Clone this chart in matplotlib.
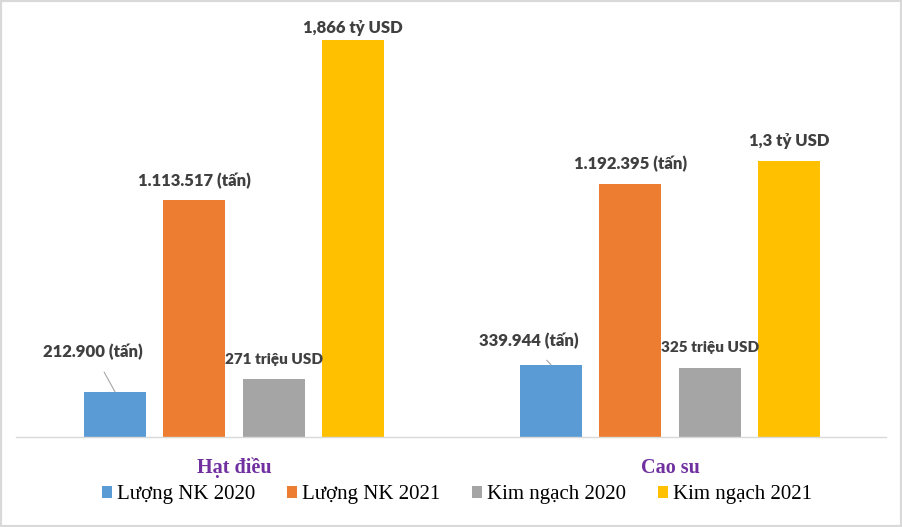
import matplotlib
matplotlib.use("Agg")
import matplotlib.pyplot as plt
import numpy as np

categories = ["Hạt điều", "Cao su"]
series_names = ["Lượng NK 2020", "Lượng NK 2021", "Kim ngạch 2020", "Kim ngạch 2021"]
luong_2020 = [212.9, 339.944]
luong_2021 = [1113.517, 1192.395]
kimngach_2020 = [271, 325]
kimngach_2021 = [1866, 1300]
labels_luong_2020 = ["212.900 (tấn)", "339.944 (tấn)"]
labels_luong_2021 = ["1.113.517 (tấn)", "1.192.395 (tấn)"]
labels_kn_2020 = ["271 triệu USD", "325 triệu USD"]
labels_kn_2021 = ["1,866 tỷ USD", "1,3 tỷ USD"]

colors = ["#5B9BD5", "#ED7D31", "#A5A5A5", "#FFC000"]
series = [luong_2020, luong_2021, kimngach_2020, kimngach_2021]
labels = [labels_luong_2020, labels_luong_2021, labels_kn_2020, labels_kn_2021]

W, H = 902, 527
fig = plt.figure(figsize=(W / 100, H / 100), dpi=100)
ax_l, ax_r = 16 / W, 888 / W
ax_top, ax_bot = 20, 437
ax = fig.add_axes([ax_l, (H - ax_bot) / H, ax_r - ax_l, (ax_bot - ax_top) / H])

x = np.arange(len(categories))
step = 0.182
width = 0.142
offsets = (np.arange(4) - 1.5) * step

bars = []
for i, (vals, c, name) in enumerate(zip(series, colors, series_names)):
    b = ax.bar(x + offsets[i], vals, width=width, color=c, label=name, zorder=2)
    bars.append(b)

ax.set_xlim(-0.5, 1.5)
ax.set_ylim(0, 1962)
for s in ["left", "right", "top"]:
    ax.spines[s].set_visible(False)
ax.spines["bottom"].set_color("#D9D9D9")
ax.spines["bottom"].set_linewidth(1.0)
ax.spines["bottom"].set_bounds(-0.5, 1.496)
ax.set_yticks([])
ax.set_xticks(x)
ax.set_xticklabels(categories, fontfamily="Liberation Serif", fontweight="bold",
                   fontsize=14.5, color="#7030A0")
ax.tick_params(axis="x", length=0, pad=15)

lab_font = dict(fontfamily="Lato", fontweight="heavy", fontsize=12, color="#404040",
                ha="center", va="center")

dy = {1: 14, 2: 14, 3: 14}
for i in range(4):
    for j in range(len(categories)):
        xv = x[j] + offsets[i]
        yv = series[i][j]
        if i == 0:
            if j == 0:
                dx_pt, dy_pt = -16, 29
            else:
                dx_pt, dy_pt = -16, 17
            ax.annotate(labels[i][j], xy=(xv, yv), xytext=(dx_pt, dy_pt),
                        textcoords="offset points",
                        arrowprops=dict(arrowstyle="-", color="#A6A6A6", lw=0.8,
                                        shrinkA=8, shrinkB=0),
                        **lab_font)
        else:
            d = dy[i]
            f = dict(lab_font)
            if i == 3 and j == 0:
                d = 9
            if i == 2:
                f["fontsize"] = 11
                d = 14 if j == 0 else 15
            ax.annotate(labels[i][j], xy=(xv, yv), xytext=(0, d),
                        textcoords="offset points", **f)

leg = fig.legend(handles=bars, labels=series_names, loc="center",
                 bbox_to_anchor=(457 / W, 1 - 495 / H), ncol=4, frameon=False,
                 prop=dict(family="Liberation Serif", size=15),
                 handlelength=0.5, handleheight=0.5, handletextpad=0.25,
                 columnspacing=1.5)

fig.patches.append(plt.Rectangle((0, 0), 1, 1, transform=fig.transFigure,
                                 fill=False, edgecolor="#D9D9D9", lw=3))

fig.savefig("out.png", dpi=100)
